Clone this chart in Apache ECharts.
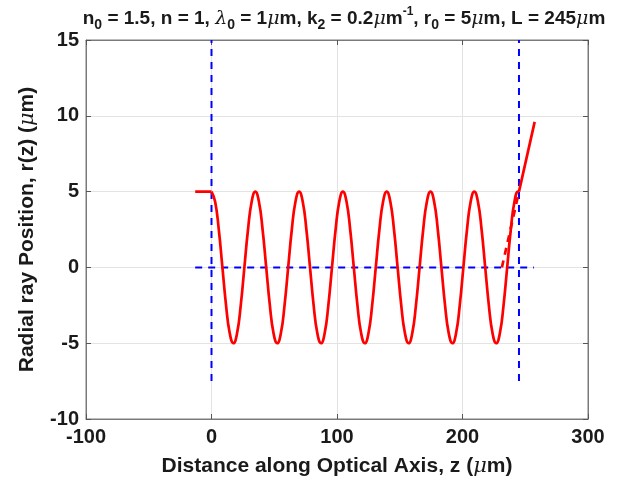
<!DOCTYPE html>
<html>
<head>
<meta charset="utf-8">
<script src="https://cdn.jsdelivr.net/npm/echarts@6/dist/echarts.min.js"></script>
<style>html,body{margin:0;padding:0;background:#fff;}#c{width:617px;height:485px;}</style>
</head>
<body>
<div id="c"></div>
<script>
// Ray inside the GRIN lens
const zLens = [0,2.9,5.8,8.7,11.6,14.5,17.5,20.4,23.3,26.2,29.1,32.0,
  34.9,37.8,40.7,43.6,46.5,49.4,52.4,55.3,58.2,61.1,64.0,66.9,
  69.8,72.7,75.6,78.5,81.4,84.3,87.3,90.2,93.1,96.0,98.9,101.8,
  104.7,107.6,110.5,113.4,116.3,119.2,122.2,125.1,128.0,130.9,133.8,136.7,
  139.6,142.5,145.4,148.3,151.2,154.1,157.1,160.0,162.9,165.8,168.7,171.6,
  174.5,177.4,180.3,183.2,186.1,189.0,192.0,194.9,197.8,200.7,203.6,206.5,
  209.4,212.3,215.2,218.1,221.0,223.9,226.9,229.8,232.7,235.6,238.5,241.4,
  244.3,245];
const rLens = [5,4.33,2.5,0,-2.5,-4.33,-5,-4.33,-2.5,0,2.5,4.33,
  5,4.33,2.5,0,-2.5,-4.33,-5,-4.33,-2.5,0,2.5,4.33,
  5,4.33,2.5,0,-2.5,-4.33,-5,-4.33,-2.5,0,2.5,4.33,
  5,4.33,2.5,0,-2.5,-4.33,-5,-4.33,-2.5,0,2.5,4.33,
  5,4.33,2.5,0,-2.5,-4.33,-5,-4.33,-2.5,0,2.5,4.33,
  5,4.33,2.5,0,-2.5,-4.33,-5,-4.33,-2.5,0,2.5,4.33,
  5,4.33,2.5,0,-2.5,-4.33,-5,-4.33,-2.5,0,2.5,4.33,
  5,5];
// Incoming ray
const zIn = [-13, 0];
const rIn = [5, 5];
// Outgoing ray
const zOut = [245, 257.5];
const rOut = [5, 9.6];
// Back-extension of outgoing ray (dashed)
const zBack = [231.4, 245];
const rBack = [0, 5];
// Lens boundaries and optical axis (blue dashed)
const zFace1 = [0, 0];      const rFace1 = [-7.5, 15];
const zFace2 = [245, 245];  const rFace2 = [-7.5, 15];
const zAxisLine = [-13, 257]; const rAxisLine = [0, 0];

const xTicks = [-100, 0, 100, 200, 300];
const yTicks = [-10, -5, 0, 5, 10, 15];

const pairs = (xs, ys) => xs.map((x, i) => [x, ys[i]]);

const FONT = 'Liberation Sans';
const base = {fontFamily: FONT, fontWeight: 'bold', color: '#1a1a1a'};
const mu = {fontFamily: 'DejaVu Serif', fontStyle: 'italic', fontWeight: 'normal', color: '#1a1a1a'};

const chart = echarts.init(document.getElementById('c'), null, {renderer: 'canvas'});

const titleText = '{n|n}{sub|0}{n| = 1.5, n = 1, }{g|λ}{sub|0}{n| = 1}{g|μ}{n|m, k}{sub|2}{n| = 0.2}{g|μ}{n|m}{sup|-1}{n|, r}{sub|0}{n| = 5}{g|μ}{n|m, L = 245}{g|μ}{n|m}';

const lineSeries = (xs, ys, color, type, width, smooth) => ({
  type: 'line',
  data: pairs(xs, ys),
  showSymbol: false,
  symbol: 'none',
  smooth: smooth || false,
  lineStyle: {color: color, width: width, type: type, cap: 'butt'},
  silent: true,
  animation: false,
  z: 3
});

const AX_COLOR = '#7a7a7a';
const TICK_COLOR = '#555';

chart.setOption({
  animation: false,
  backgroundColor: '#ffffff',
  title: {
    text: titleText,
    left: 339,
    top: 1,
    textAlign: 'center',
    textStyle: {
      rich: {
        n: Object.assign({}, base, {fontSize: 19, lineHeight: 26, verticalAlign: 'middle'}),
        g: Object.assign({}, mu, {fontSize: 19, lineHeight: 26, verticalAlign: 'middle'}),
        sub: Object.assign({}, base, {fontSize: 14, lineHeight: 26, verticalAlign: 'bottom'}),
        sup: Object.assign({}, base, {fontSize: 12, lineHeight: 26, verticalAlign: 'top'})
      }
    }
  },
  grid: {
    left: 86, top: 40, right: 29, bottom: 66,
    show: true, borderColor: AX_COLOR, borderWidth: 1, backgroundColor: 'transparent'
  },
  xAxis: [{
    type: 'value',
    min: xTicks[0], max: xTicks[xTicks.length - 1], interval: 100,
    name: 'Distance along Optical Axis, z ({g|μ}m)',
    nameLocation: 'middle', nameGap: 37,
    nameTextStyle: {
      fontFamily: FONT, fontWeight: 'bold', fontSize: 21, color: '#1a1a1a',
      rich: {g: Object.assign({}, mu, {fontSize: 21})}
    },
    axisLine: {show: true, onZero: false, lineStyle: {color: AX_COLOR, width: 1}},
    axisTick: {show: true, inside: true, length: 5, lineStyle: {color: TICK_COLOR}},
    axisLabel: {fontFamily: FONT, fontWeight: 'bold', fontSize: 20, color: '#1a1a1a', margin: 8},
    splitLine: {show: true, lineStyle: {color: '#e3e3e3', width: 1}}
  }, {
    type: 'value', position: 'top',
    min: xTicks[0], max: xTicks[xTicks.length - 1], interval: 100,
    axisLine: {show: true, onZero: false, lineStyle: {color: AX_COLOR, width: 1}},
    axisTick: {show: true, inside: true, length: 5, lineStyle: {color: TICK_COLOR}},
    axisLabel: {show: false},
    splitLine: {show: false}
  }],
  yAxis: [{
    type: 'value',
    min: yTicks[0], max: yTicks[yTicks.length - 1], interval: 5,
    name: 'Radial ray Position, r(z) ({g|μ}m)',
    nameLocation: 'middle', nameGap: 48, nameRotate: 90,
    nameTextStyle: {
      fontFamily: FONT, fontWeight: 'bold', fontSize: 21, color: '#1a1a1a',
      rich: {g: Object.assign({}, mu, {fontSize: 21})}
    },
    axisLine: {show: true, onZero: false, lineStyle: {color: AX_COLOR, width: 1}},
    axisTick: {show: true, inside: true, length: 5, lineStyle: {color: TICK_COLOR}},
    axisLabel: {fontFamily: FONT, fontWeight: 'bold', fontSize: 20, color: '#1a1a1a', margin: 7},
    splitLine: {show: true, lineStyle: {color: '#e3e3e3', width: 1}}
  }, {
    type: 'value', position: 'right',
    min: yTicks[0], max: yTicks[yTicks.length - 1], interval: 5,
    axisLine: {show: true, onZero: false, lineStyle: {color: AX_COLOR, width: 1}},
    axisTick: {show: true, inside: true, length: 5, lineStyle: {color: TICK_COLOR}},
    axisLabel: {show: false},
    splitLine: {show: false}
  }],
  series: [
    lineSeries(zAxisLine, rAxisLine, '#0000ff', [7, 6], 2),
    lineSeries(zFace1, rFace1, '#0000ff', [7, 6], 2),
    lineSeries(zFace2, rFace2, '#0000ff', [7, 6], 2),
    lineSeries(zIn, rIn, '#ff0000', 'solid', 2.7),
    lineSeries(zLens, rLens, '#ff0000', 'solid', 2.7, 0.5),
    lineSeries(zOut, rOut, '#ff0000', 'solid', 2.7),
    lineSeries(zBack, rBack, '#ff0000', [7, 6], 2.7)
  ]
});
</script>
</body>
</html>
